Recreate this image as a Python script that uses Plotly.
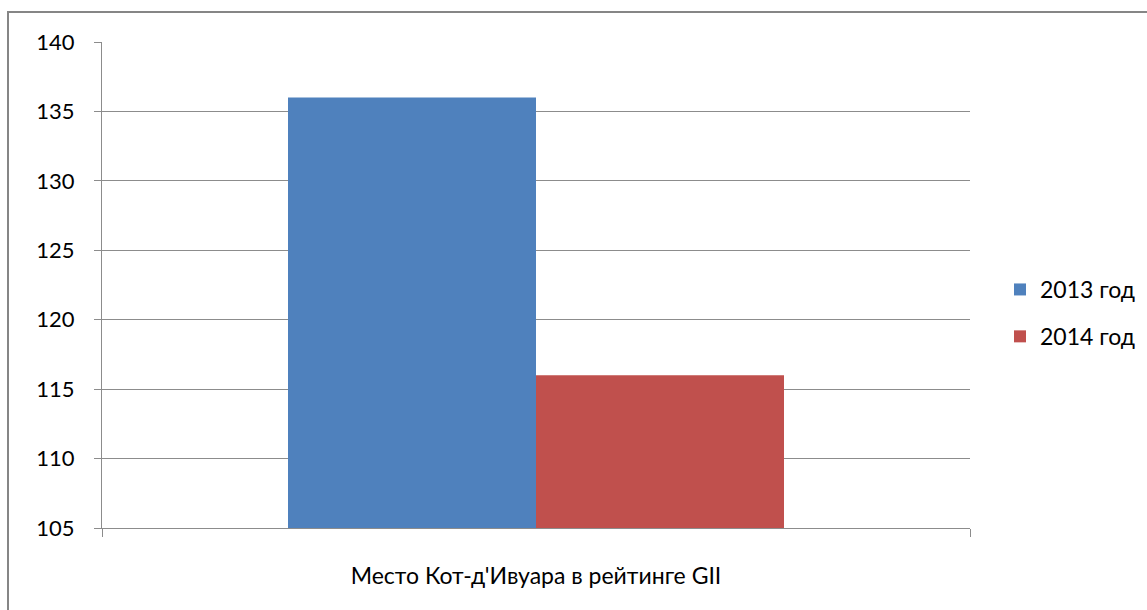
import plotly.graph_objects as go

# Data
category = ["Место Кот-д'Ивуара в рейтинге GII"]
series_names = ["2013 год", "2014 год"]
values_2013 = [136]
values_2014 = [116]
y_ticks = [105, 110, 115, 120, 125, 130, 135, 140]

colors = ["#4F81BD", "#C0504D"]
grid_color = "#8C8C8C"
font_family = "Lato, Carlito, Calibri, sans-serif"

W, H = 1147, 610
L, R, T, B = 102, 970, 42, 528

fig = go.Figure()
for name, vals, col, grp in zip(series_names, [values_2013, values_2014], colors, ["a", "b"]):
    fig.add_trace(go.Bar(
        x=category, y=vals, name=name, marker_color=col,
        marker_line_width=0, legendgroup=grp,
    ))

# outer chart frame (only its left and top edges fall inside the canvas)
pw, ph = R - L, B - T
fig.add_shape(
    type="rect", xref="paper", yref="paper",
    x0=(8 - L) / pw, x1=(W + 20 - L) / pw,
    y0=-(H + 20 - B) / ph, y1=1 + (T - 12) / ph,
    line=dict(color="#868686", width=2), fillcolor="rgba(0,0,0,0)",
    layer="below",
)

fig.update_layout(
    width=W, height=H,
    margin=dict(l=L, r=W - R, t=T, b=H - B, autoexpand=False),
    paper_bgcolor="white", plot_bgcolor="white",
    barmode="group", bargap=1.5 / 3.5, bargroupgap=0,
    font=dict(family=font_family, size=21, color="black"),
    showlegend=True,
    legend=dict(
        x=(1000 - L) / pw, y=(B - 313) / ph, xanchor="left", yanchor="middle",
        font=dict(size=23), tracegroupgap=14, bgcolor="rgba(0,0,0,0)",
    ),
    xaxis=dict(
        range=[-0.5, 0.5], showline=True, linecolor=grid_color, linewidth=1,
        ticks="outside", tickson="boundaries", ticklen=8, tickcolor=grid_color,
        showgrid=False, tickfont=dict(size=23), ticklabelstandoff=27,
        automargin=False,
    ),
    yaxis=dict(
        range=[105, 140], tickvals=y_ticks, showline=True, linecolor=grid_color,
        linewidth=1, ticks="outside", ticklen=7, tickcolor=grid_color,
        showgrid=True, gridcolor=grid_color, gridwidth=1, zeroline=False,
        tickfont=dict(size=22), ticklabelstandoff=15, automargin=False,
    ),
)

fig.write_html("out.html")
